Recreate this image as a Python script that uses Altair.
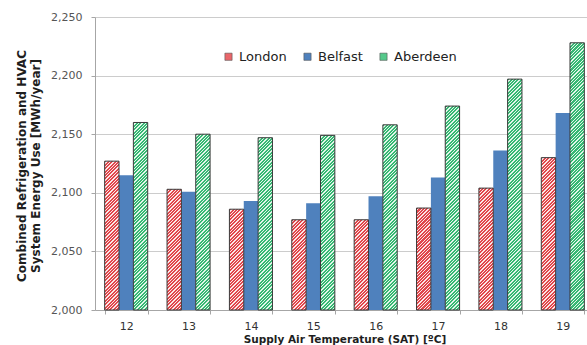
import altair as alt
import pandas as pd

# Supply air temperature set-points (°C) and combined energy use per city (MWh/year)
temps = ["12", "13", "14", "15", "16", "17", "18", "19"]
series = ["London", "Belfast", "Aberdeen"]
london = [2127, 2103, 2086, 2077, 2077, 2087, 2104, 2130]
belfast = [2115, 2101, 2093, 2091, 2097, 2113, 2136, 2168]
aberdeen = [2160, 2150, 2147, 2149, 2158, 2174, 2197, 2228]

y_ticks = [2000, 2050, 2100, 2150, 2200, 2250]

# Layout of the plot area (pixels)
Y_MIN, Y_MAX = 2000, 2250
PLOT_W, PLOT_H = 492, 293
X_RANGE = 499
PAD_IN, PAD_OUT = 0.31, 0.155

FONT = "DejaVu Sans"
RED_INK, RED_PAPER = "#e0474c", "#fce6e6"
GREEN_INK, GREEN_PAPER = "#36b873", "#e3f6ea"
BLUE = "#4f81bd"
OUTLINE = "#3a3a3a"

rows = []
for s, vals in zip(series, [london, belfast, aberdeen]):
    for t, v in zip(temps, vals):
        rows.append({"temp": t, "series": s, "energy": v})
df = pd.DataFrame(rows)

step = X_RANGE / (len(temps) - PAD_IN + 2 * PAD_OUT)
bar_w = step * (1 - PAD_IN) / len(series)
px_per_unit = PLOT_H / (Y_MAX - Y_MIN)


def hatch(value, ink, paper, period=3.4, ink_frac=0.6):
    """Diagonal (/) stripe fill for one bar, built as a hard-stop linear gradient."""
    w = bar_w
    h = (value - Y_MIN) * px_per_unit
    n = (w + h) / period
    stops = []
    k = 0
    while k < n:
        a = round(k / n, 5)
        b = round(min((k + ink_frac) / n, 1.0), 5)
        c = round(min((k + 1) / n, 1.0), 5)
        stops += [
            {"offset": a, "color": ink},
            {"offset": b, "color": ink},
            {"offset": b, "color": paper},
            {"offset": c, "color": paper},
        ]
        k += 1
    d = w * w + h * h
    return {
        "gradient": "linear",
        "stops": stops,
        "x1": 0,
        "y1": 0,
        "x2": round(w * (w + h) / d, 5),
        "y2": round(h * (w + h) / d, 5),
    }


x_enc = alt.X(
    "temp:N",
    sort=temps,
    scale=alt.Scale(domain=temps, range=[0, X_RANGE], paddingInner=PAD_IN, paddingOuter=PAD_OUT),
    axis=alt.Axis(
        title="Supply Air Temperature (SAT) [ºC]",
        labelAngle=0,
        tickBand="extent",
        grid=False,
        domainColor="#a6a6a6",
        tickColor="#a6a6a6",
        tickSize=4,
        labelFont=FONT,
        labelFontSize=11,
        labelColor="#333333",
        labelPadding=6,
        titleFont=FONT,
        titleFontSize=10.5,
        titleFontWeight="bold",
        titleColor="#1e1e1e",
        titleX=249.5,
        titleY=32,
        titleBaseline="alphabetic",
    ),
)
xo_enc = alt.XOffset("series:N", sort=series, scale=alt.Scale(domain=series))
y_enc = alt.Y(
    "energy:Q",
    scale=alt.Scale(domain=[Y_MIN, Y_MAX], zero=False, nice=False),
    axis=alt.Axis(
        values=y_ticks,
        format=",.0f",
        title=["Combined Refrigeration and HVAC", "System Energy Use [MWh/year]"],
        gridColor="#cccccc",
        domainColor="#a6a6a6",
        tickColor="#a6a6a6",
        tickSize=4,
        labelFont=FONT,
        labelFontSize=11,
        labelColor="#555555",
        labelPadding=9,
        titleFont=FONT,
        titleFontSize=12,
        titleFontWeight="bold",
        titleColor="#1e1e1e",
        titleLineHeight=14,
        titleAngle=270,
        titleAlign="center",
        titleBaseline="middle",
        titleX=-74,
        titleY=PLOT_H / 2 + 2,
    ),
)

base = alt.Chart(df)
layers = []

# Solid Belfast bars carry the legend
layers.append(
    base.transform_filter(alt.datum.series == "Belfast")
    .mark_bar(stroke=None)
    .encode(
        x=x_enc,
        xOffset=xo_enc,
        y=y_enc,
        y2=alt.datum(Y_MIN),
        color=alt.Color(
            "series:N",
            sort=series,
            scale=alt.Scale(domain=series, range=["#e9666a", BLUE, "#55c98b"]),
            legend=alt.Legend(
                title=None,
                orient="none",
                legendX=127,
                legendY=33,
                direction="horizontal",
                symbolType="square",
                symbolSize=52,
                symbolStrokeColor="#555555",
                symbolStrokeWidth=0.6,
                labelFont=FONT,
                labelFontSize=13,
                labelColor="#222222",
                labelOffset=4,
                columnPadding=14,
            ),
        ),
    )
)

# Hatched bars for London and Aberdeen, one per value so each stripe pattern fits its bar
for s, vals, ink, paper in [
    ("London", london, RED_INK, RED_PAPER),
    ("Aberdeen", aberdeen, GREEN_INK, GREEN_PAPER),
]:
    for t, v in zip(temps, vals):
        layers.append(
            base.transform_filter((alt.datum.series == s) & (alt.datum.temp == t))
            .mark_bar(fill=hatch(v, ink, paper), stroke=OUTLINE, strokeWidth=1)
            .encode(x=x_enc, xOffset=xo_enc, y=y_enc, y2=alt.datum(Y_MIN))
        )

chart = (
    alt.layer(*layers)
    .properties(
        width=PLOT_W,
        height=PLOT_H,
        autosize=alt.AutoSizeParams(type="none"),
        padding={"left": 95, "top": 17, "right": 0, "bottom": 35},
        background="white",
    )
    .configure_view(stroke=None)
)

chart.save("out.html", embed_options={"renderer": "svg", "actions": False})
